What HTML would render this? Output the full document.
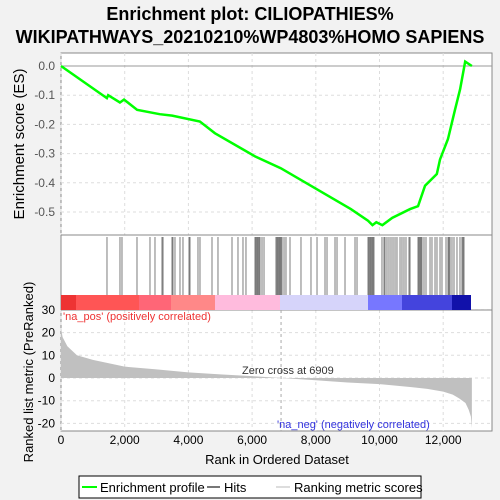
<!DOCTYPE html><html><head><style>body{margin:0;background:#f2f2f2;}svg{display:block;font-family:"Liberation Sans",sans-serif;}</style></head><body>
<svg id="c" width="500" height="500">
<text x="250" y="20" text-anchor="middle" font-size="18" font-weight="bold">Enrichment plot: CILIOPATHIES%</text>
<text x="250" y="43" text-anchor="middle" font-size="18" font-weight="bold">WIKIPATHWAYS_20210210%WP4803%HOMO SAPIENS</text>
<g id="g"></g>
</svg>
<script>
const esRanks=[0,1440,1480,1850,1980,2390,3100,3490,4360,4830,6100,6900,9100,9640,9780,9900,10090,10400,10960,11210,11430,11800,11900,12150,12370,12530,12690,12900];
const esVals=[0,-0.11,-0.1,-0.125,-0.115,-0.15,-0.165,-0.17,-0.19,-0.23,-0.31,-0.35,-0.49,-0.53,-0.545,-0.535,-0.545,-0.52,-0.49,-0.48,-0.41,-0.37,-0.32,-0.25,-0.15,-0.08,0.015,0];
const hitPx=[107,120,122,137,150,155,162,163,172,173,175,180,183,189,190,198,200,212,218,232,238,243,246,255,256,257,258,259,260,262,264,276,277,278,279,280,281,282,284,286,290,301,311,317,325,327,335,337,345,355,357,368,369,370,371,372,373,374,382,384,385,387,389,391,393,395,397,400,402,404,406,409,410,418,419,420,421,422,424,426,430,432,435,437,440,442,446,448,449,450,452,454,457,460,462,463,464];
const hitRanks=hitPx.map(p=>Math.round((p-61)/0.03185));
const metricRanks=[0,50,200,500,1000,2000,3000,4000,5000,6000,6909,8000,9000,10000,11000,11500,12000,12300,12500,12700,12800,12870,12900];
const metricVals=[22,18,14,10,8,5,3.8,2.5,1.6,0.8,0,-1,-2,-2.7,-4,-4.8,-6,-7.3,-9,-11,-14,-17,-22];
const xTicks=[0,2000,4000,6000,8000,10000,12000];
const esTicks=[0,-0.1,-0.2,-0.3,-0.4,-0.5];
const mTicks=[30,20,10,0,-10,-20];
const NS="http://www.w3.org/2000/svg",g=document.getElementById('g');
const X=r=>61+r*0.03185, YE=v=>66-v*292, YM=v=>378-v*2.27;
function el(t,a,p){const e=document.createElementNS(NS,t);for(const k in a)e.setAttribute(k,a[k]);(p||g).appendChild(e);return e;}
let e;
e=el('rect',{x:61,y:53,width:431,height:378,fill:'#fff',stroke:'#888'});


for(const t of xTicks){[[53,235],[310,431]].forEach(([a,b])=>{e=el('line',{x1:X(t),x2:X(t),y1:a,y2:b,stroke:'#ddd','stroke-dasharray':'3,3'});});
e=el('text',{x:X(t),y:444,'text-anchor':'middle','font-size':12});e.textContent=t.toLocaleString('en-US');

}
for(const t of esTicks){e=el('line',{x1:61,x2:492,y1:YE(t),y2:YE(t),stroke:t==0?'#999':'#ddd','stroke-dasharray':t==0?'':'3,3'});
e=el('text',{x:55,y:YE(t)+4,'text-anchor':'end','font-size':12,fill:'#555'});e.textContent=t.toFixed(1);

}
for(const t of mTicks){e=el('line',{x1:61,x2:492,y1:YM(t),y2:YM(t),stroke:'#ddd','stroke-dasharray':'3,3'});
e=el('text',{x:55,y:YM(t)+4,'text-anchor':'end','font-size':12});e.textContent=t;

}
e=el('line',{x1:61,x2:492,y1:235,y2:235,stroke:'#888'});
e=el('line',{x1:61,x2:492,y1:310,y2:310,stroke:'#888'});
const segs=[[61,76,'#e33'],[76,139,'#f55'],[139,171,'#f67'],[171,215,'#f88'],[215,280,'#fbd'],[280,368,'#d6d4fa'],[368,402,'#77f'],[402,452,'#44d'],[452,471,'#11a']];
for(const s of segs){e=el('rect',{x:s[0],y:295,width:s[1]-s[0],height:15,fill:s[2]});}
for(const r of hitRanks){e=el('line',{x1:X(r),x2:X(r),y1:237,y2:295,stroke:'#444','stroke-width':0.7});}
let d='M'+X(0)+','+YM(0);metricRanks.forEach((r,i)=>d+='L'+X(r)+','+YM(metricVals[i]));d+='L'+X(12900)+','+YM(0)+'Z';
e=el('path',{d:d,fill:'#c0c0c0'});
e=el('line',{x1:X(6909),x2:X(6909),y1:310,y2:431,stroke:'#aaa','stroke-dasharray':'3,3'});
e=el('text',{x:242,y:374,'font-size':11,fill:'#333'});e.textContent='Zero cross at 6909';
e=el('text',{x:63,y:320,'font-size':11,fill:'#e33'});e.textContent="'na_pos' (positively correlated)";
e=el('text',{x:277,y:428,'font-size':11,fill:'#33d'});e.textContent="'na_neg' (negatively correlated)";
e=el('polyline',{points:esRanks.map((r,i)=>X(r)+','+YE(esVals[i])).join(' '),fill:'none',stroke:'#0f0','stroke-width':2.5});


e=el('text',{transform:'translate(24,144) rotate(-90)','text-anchor':'middle','font-size':15});e.textContent='Enrichment score (ES)';
e=el('text',{transform:'translate(33,372) rotate(-90)','text-anchor':'middle','font-size':13});e.textContent='Ranked list metric (PreRanked)';
e=el('text',{x:277,y:464,'text-anchor':'middle','font-size':13});e.textContent='Rank in Ordered Dataset';
const lg=el('g',{});
el('rect',{x:79,y:476,width:342,height:22,fill:'#fff',stroke:'#000'},lg);
el('line',{x1:82,x2:97,y1:487,y2:487,stroke:'#0f0','stroke-width':2},lg);
e=el('text',{x:100,y:492,'font-size':13},lg);e.textContent='Enrichment profile';
el('line',{x1:207,x2:220,y1:487,y2:487,stroke:'#777','stroke-width':2},lg);
e=el('text',{x:224,y:492,'font-size':13},lg);e.textContent='Hits';
el('line',{x1:276,x2:290,y1:487,y2:487,stroke:'#ddd','stroke-width':2},lg);
e=el('text',{x:294,y:492,'font-size':13},lg);e.textContent='Ranking metric scores';
</script></body></html>
